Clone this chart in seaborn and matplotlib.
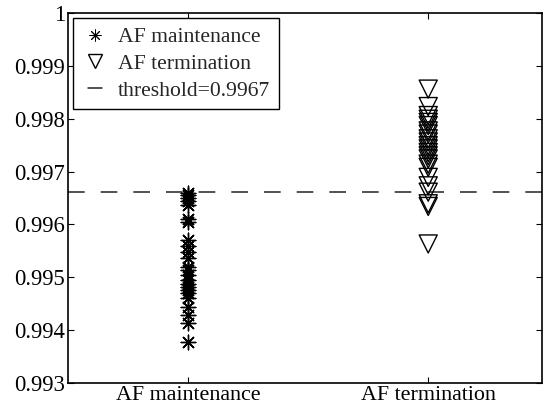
import numpy as np
import pandas as pd
import matplotlib
matplotlib.use('Agg')
import matplotlib.pyplot as plt
from matplotlib.lines import Line2D
import seaborn as sns

sns.set_style('ticks')
plt.rcParams['font.family'] = ['Liberation Serif', 'DejaVu Serif']

# values
groups = ['AF maintenance', 'AF termination']
maintenance = [0.99660, 0.99655, 0.99650, 0.99644, 0.99637, 0.99610, 0.99605,
               0.99571, 0.99560, 0.99548, 0.99537, 0.99520, 0.99514, 0.99504,
               0.99495, 0.99488, 0.99482, 0.99476, 0.99470, 0.99461, 0.99444,
               0.99429, 0.99414, 0.99378]
termination = [0.99856, 0.99823, 0.99806, 0.99799, 0.99793, 0.99787, 0.99777,
               0.99771, 0.99762, 0.99756, 0.99749, 0.99743, 0.99736, 0.99730,
               0.99724, 0.99714, 0.99708, 0.99689, 0.99673, 0.99661, 0.99639,
               0.99634, 0.99563]
threshold = 0.99662
threshold_label = 'threshold=0.9967'
yticks = [0.993, 0.994, 0.995, 0.996, 0.997, 0.998, 0.999, 1.0]
ytick_labels = ['0.993', '0.994', '0.995', '0.996', '0.997', '0.998', '0.999', '1']

df_m = pd.DataFrame({'group': groups[0], 'value': maintenance})
df_t = pd.DataFrame({'group': groups[1], 'value': termination})

fig = plt.figure(figsize=(5.43, 4.08), dpi=100)
ax = fig.add_axes([0.1252, 0.0613, 0.8735, 0.9068])

star = (8, 2, 0)
sns.stripplot(data=df_m, x='group', y='value', order=groups, jitter=False,
              marker=star, size=10.5, color='black', linewidth=1, ax=ax)
coll = ax.collections[-1]
coll.set_edgecolor('black')
coll.set_linewidth(0.9)

sns.stripplot(data=df_t, x='group', y='value', order=groups, jitter=False,
              marker='v', size=13, color='black', linewidth=1, ax=ax)
coll = ax.collections[-1]
coll.set_facecolor('none')
coll.set_edgecolor('black')
coll.set_linewidth(1.0)

ax.axhline(threshold, color='#333333', lw=1.2, dashes=(10, 9.6))

ax.set_xlim(-0.5, 1.475)
ax.set_ylim(0.993, 1.0)
ax.set_yticks(yticks)
ax.set_yticklabels(ytick_labels)
ax.set_xlabel('')
ax.set_ylabel('')
ax.tick_params(direction='in', length=4, width=0.8, colors='black',
               top=True, right=True, pad=2)
ax.tick_params(axis='y', labelsize=16.3)
ax.tick_params(axis='x', labelsize=15.8)
for s in ax.spines.values():
    s.set_visible(True)
    s.set_linewidth(1.2)
    s.set_color('black')

handles = [
    Line2D([], [], ls='none', marker=star, markersize=8.5, color='black', mew=0.7),
    Line2D([], [], ls='none', marker='v', markersize=9.5, markerfacecolor='none',
           markeredgecolor='black', mew=1.0),
    Line2D([], [], color='#333333', lw=1.2, ls=(25.7, (9, 20))),
]
leg = ax.legend(handles, ['AF maintenance', 'AF termination', threshold_label],
                loc='upper left', fontsize=15.6, frameon=True, fancybox=False,
                edgecolor='black', framealpha=1, handlelength=1.2,
                handletextpad=0.45, borderpad=0.4, labelspacing=0.3,
                borderaxespad=0.25)
leg.get_frame().set_linewidth(1.0)

fig.savefig('out.png', dpi=100)
